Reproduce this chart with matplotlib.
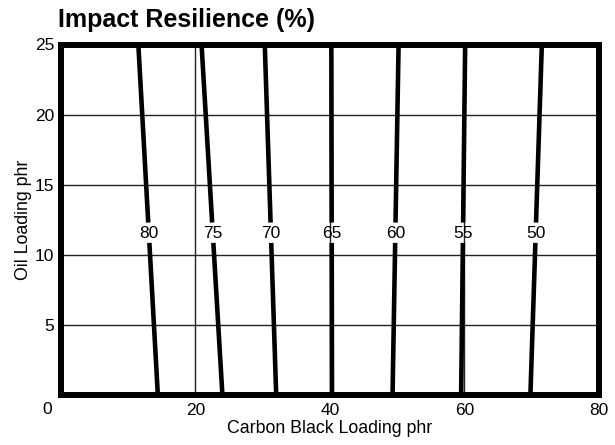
import matplotlib
matplotlib.use("Agg")
import matplotlib.pyplot as plt

plt.rcParams['font.family'] = ['Liberation Sans', 'DejaVu Sans']

# Contour levels and their x-positions (carbon black phr) at bottom (oil=0) and top (oil=25)
levels = [80, 75, 70, 65, 60, 55, 50]
x_bottom = [14.4, 24.0, 32.0, 40.3, 49.3, 59.5, 69.8]
x_top = [11.5, 20.9, 30.3, 40.2, 50.2, 60.1, 71.5]
y_range = [0, 25]
label_y = 11.5
gap = [10.85, 12.3]

x_ticks = [20, 40, 60, 80]
y_ticks = [5, 10, 15, 20, 25]

fig = plt.figure(figsize=(6.15, 4.45), dpi=100)
ax = fig.add_axes([61/615, 1-395/445, 538/615, 350.5/445])
ax.set_xlim(0, 80)
ax.set_ylim(0, 25)

for x in x_ticks[:-1]:
    ax.axvline(x, color='#222222', lw=1.0, zorder=1)
for y in y_ticks[:-1]:
    ax.axhline(y, color='#222222', lw=1.0, zorder=1)

def xat(x0, x1, y):
    return x0 + (x1 - x0) * (y - y_range[0]) / (y_range[1] - y_range[0])

for lev, x0, x1 in zip(levels, x_bottom, x_top):
    ax.plot([x0, xat(x0, x1, gap[0])], [y_range[0], gap[0]], color='black', lw=3.3,
            solid_capstyle='butt', zorder=3)
    ax.plot([xat(x0, x1, gap[1]), x1], [gap[1], y_range[1]], color='black', lw=3.3,
            solid_capstyle='butt', zorder=3)
    ax.text(xat(x0, x1, label_y), label_y, str(lev), ha='center', va='center',
            fontsize=12.5, zorder=4)

for s in ax.spines.values():
    s.set_linewidth(4.3)
    s.set_color('black')
    s.set_zorder(5)

ax.set_xticks(x_ticks)
ax.set_yticks(y_ticks)
ax.tick_params(length=0, labelsize=12.5)
ax.tick_params(axis='x', pad=6)
ax.tick_params(axis='y', pad=5)
ax.text(47/615, 1-409/445, '0', transform=fig.transFigure, ha='center', va='center',
        fontsize=12.5)

ax.set_xlabel('Carbon Black Loading phr', fontsize=12.75, labelpad=1)
ax.set_ylabel('Oil Loading phr', fontsize=12.75, labelpad=2)
fig.text(58/615, 1-27/445, 'Impact Resilience (%)', fontsize=18, fontweight='bold',
         ha='left', va='baseline')

fig.savefig('out.png', dpi=100)
